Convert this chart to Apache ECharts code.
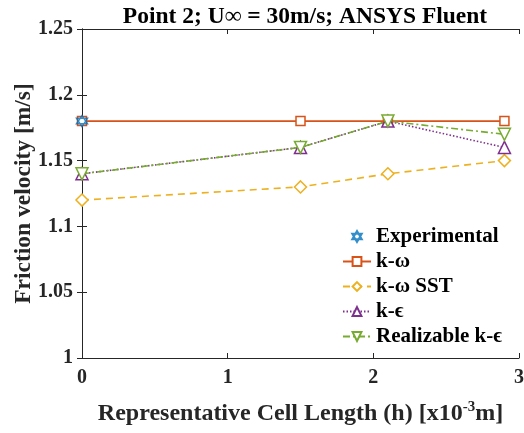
<!DOCTYPE html>
<html>
<head>
<meta charset="utf-8">
<script src="https://cdn.jsdelivr.net/npm/echarts@6/dist/echarts.min.js"></script>
<style>
  html, body { margin: 0; padding: 0; background: #fff; }
  #chart { width: 524px; height: 433px; }
</style>
</head>
<body>
<div id="chart"></div>
<script>
// cell length h [x10^-3 m]
var cellLength = [0, 1.5, 2.1, 2.9];
var experimental = [1.18];
var kOmega = [1.18, 1.18, 1.18, 1.18];
var kOmegaSST = [1.12, 1.13, 1.14, 1.15];
var kEps = [1.14, 1.16, 1.18, 1.16];
var realizableKEps = [1.14, 1.16, 1.18, 1.17];

function pairs(xs, ys) {
    return ys.map(function (v, i) { return [xs[i], v]; });
}

var FONT = '"Liberation Serif", "Times New Roman", serif';
var INK = '#262626';
var hexagram = 'path://M0,-10 L8.66,5 L-8.66,5 Z M0,10 L8.66,-5 L-8.66,-5 Z';

function lineSeries(name, data, color, symbol, type, size) {
    return {
        name: name,
        type: 'line',
        data: pairs(cellLength, data),
        symbol: symbol,
        symbolSize: size || 10,
        showAllSymbol: true,
        itemStyle: { color: '#fff', borderColor: color, borderWidth: 1.5 },
        lineStyle: { color: color, width: 1.6, type: type },
        emphasis: { disabled: true },
        animation: false
    };
}

var chart = echarts.init(document.getElementById('chart'));
chart.setOption({
    animation: false,
    title: {
        text: 'Point 2; U\u221E = 30m/s; ANSYS Fluent',
        left: 300, top: 0, textAlign: 'center',
        textStyle: { fontFamily: FONT, fontWeight: 'bold', fontSize: 23.5, color: '#000' }
    },
    grid: { left: 82, right: 5, top: 29, bottom: 75, outerBoundsMode: 'none', containLabel: false },
    legend: {
        orient: 'vertical',
        left: 337, top: 221,
        itemWidth: 28, itemHeight: 11, itemGap: 4,
        textStyle: { fontFamily: FONT, fontWeight: 'bold', fontSize: 21, color: '#000' },
        data: ['Experimental', 'k-\u03C9', 'k-\u03C9 SST', 'k-\u03F5', 'Realizable k-\u03F5']
    },
    xAxis: [{
        type: 'value', min: 0, max: 3, interval: 1,
        name: 'Representative Cell Length (h) [x10{sup|-3}m]',
        nameLocation: 'middle', nameGap: 42, nameMoveOverlap: false,
        nameTextStyle: {
            fontFamily: FONT, fontWeight: 'bold', fontSize: 24, color: INK,
            rich: { sup: { fontFamily: FONT, fontWeight: 'bold', fontSize: 15, color: INK, verticalAlign: 'top', padding: [0, 0, 12, 0] } }
        },
        axisLine: { lineStyle: { color: INK, width: 1 } },
        axisTick: { inside: true, length: 5, lineStyle: { color: INK } },
        axisLabel: { fontFamily: FONT, fontWeight: 'bold', fontSize: 20, color: INK, margin: 10 },
        splitLine: { show: false }
    }, {
        type: 'value', position: 'top', min: 0, max: 3, interval: 1,
        axisLine: { show: true, lineStyle: { color: INK, width: 1 } },
        axisTick: { inside: true, length: 5, lineStyle: { color: INK } },
        axisLabel: { show: false },
        splitLine: { show: false }
    }],
    yAxis: [{
        type: 'value', min: 1, max: 1.25, interval: 0.05,
        name: 'Friction velocity [m/s]',
        nameLocation: 'middle', nameGap: 46, nameMoveOverlap: false,
        nameTextStyle: { fontFamily: FONT, fontWeight: 'bold', fontSize: 23.5, color: INK },
        axisLine: { show: true, lineStyle: { color: INK, width: 1 } },
        axisTick: { show: true, inside: true, length: 5, lineStyle: { color: INK } },
        axisLabel: { fontFamily: FONT, fontWeight: 'bold', fontSize: 20, color: INK, margin: 9 },
        splitLine: { show: false }
    }, {
        type: 'value', position: 'right', min: 1, max: 1.25, interval: 0.05,
        axisLine: { show: true, lineStyle: { color: INK, width: 1 } },
        axisTick: { show: true, inside: true, length: 5, lineStyle: { color: INK } },
        axisLabel: { show: false },
        splitLine: { show: false }
    }],
    series: [
        {
            name: 'Experimental',
            type: 'scatter',
            data: pairs(cellLength, experimental),
            symbol: hexagram,
            symbolSize: 11,
            itemStyle: { color: 'rgba(0,0,0,0)', borderColor: '#0072BD', borderWidth: 1.5 },
            z: 5
        },
        lineSeries('k-\u03C9', kOmega, '#D95319', 'rect', 'solid', 9),
        lineSeries('k-\u03C9 SST', kOmegaSST, '#EDB120', 'diamond', [7, 5], 12),
        lineSeries('k-\u03F5', kEps, '#7E2F8E', 'triangle', [1.5, 2], 12),
        lineSeries('Realizable k-\u03F5', realizableKEps, '#77AC30', 'path://M-10,-8 L10,-8 L0,9 Z', [7, 3, 2, 3], 12)
    ]
});
</script>
</body>
</html>
